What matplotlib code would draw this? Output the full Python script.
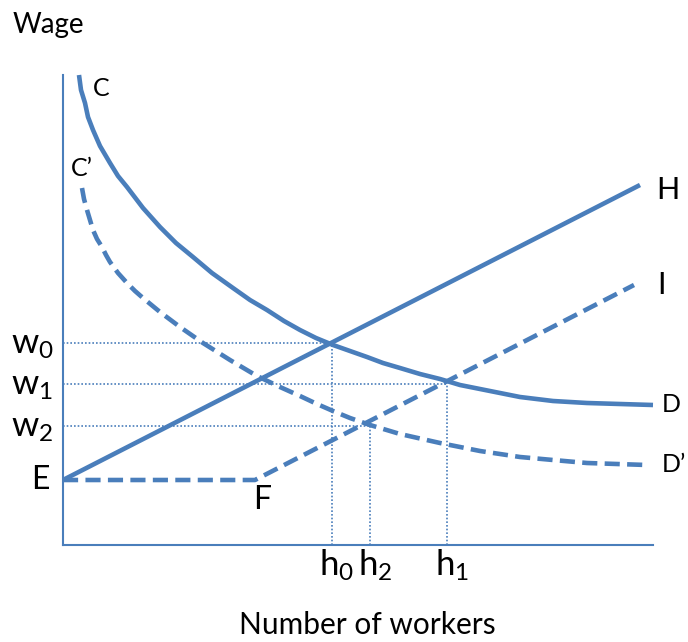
import numpy as np
import matplotlib.pyplot as plt

plt.rcParams['font.family'] = ['Lato', 'DejaVu Sans']
plt.rcParams['mathtext.fontset'] = 'custom'
plt.rcParams['mathtext.rm'] = 'Lato'

blue = '#4a7ebb'

# curve C (solid): workers, wage (arbitrary units)
c_x = [16, 18, 22, 25, 30, 37, 47, 55, 64, 80, 97, 113, 130, 149, 170, 187, 204, 221,
       237, 253, 270, 287, 304, 320, 337, 357, 377, 397, 417, 437, 457, 490, 524, 557, 590]
c_y = [470, 455, 442, 428, 415, 399, 382, 369, 358, 337, 318, 302, 288, 272, 257, 245, 235, 224,
       215, 207, 200, 194, 188, 182, 177, 171, 166, 160, 156, 152, 148, 144, 142, 141, 140]
# curve C' (dashed)
cp_x = [19, 21, 24, 27, 30, 34, 39, 43, 47, 55, 64, 72, 80, 97, 117, 140, 167, 194, 217,
        237, 254, 270, 287, 307, 337, 377, 417, 457, 490, 524, 584]
cp_y = [357, 346, 335, 325, 315, 306, 298, 290, 283, 272, 262, 254, 247, 233, 218, 202, 185, 169, 158,
        149, 141, 134, 127, 120, 111, 102, 94, 88, 85, 82, 80]

# lines H (solid) and E-F-I (dashed)
h_x = [0, 577]
h_y = [65, 360]
i_x = [0, 192, 571]
i_y = [65, 65, 260]

# equilibrium points
w_vals = [202, 161, 119]
w_labels = ['$\\mathregular{w_0}$', '$\\mathregular{w_1}$', '$\\mathregular{w_2}$']
h_vals = [269, 384, 307]
h_labels = ['$\\mathregular{h_0}$', '$\\mathregular{h_1}$', '$\\mathregular{h_2}$']

fig = plt.figure(figsize=(6.88, 6.42), dpi=100)
ax = fig.add_axes([63 / 688, 97 / 642, 590 / 688, 470 / 642])
ax.set_xlim(0, 590)
ax.set_ylim(0, 470)

for s in ['top', 'right']:
    ax.spines[s].set_visible(False)
for s in ['left', 'bottom']:
    ax.spines[s].set_color(blue)
    ax.spines[s].set_linewidth(1.5)
ax.set_xticks([])
ax.set_yticks([])

# dotted guide lines
for w, h in zip(w_vals, h_vals):
    ax.plot([0, h], [w, w], color=blue, lw=1.2, ls=(0, (1, 1.2)))
    ax.plot([h, h], [0, w], color=blue, lw=1.2, ls=(0, (1, 1.2)))

ax.plot(c_x, c_y, color=blue, lw=3.3, solid_capstyle='butt', solid_joinstyle='round', clip_on=False)
ax.plot(cp_x, cp_y, color=blue, lw=3.3, dashes=(3.3, 1.6), dash_joinstyle='round', clip_on=False)
ax.plot(h_x, h_y, color=blue, lw=3.3, solid_capstyle='butt')
ax.plot(i_x, i_y, color=blue, lw=3.3, dashes=(3.3, 1.6))

ax.text(30, 457, 'C', fontsize=18, ha='left', va='center')
ax.text(19, 377, 'C\u2019', fontsize=18, ha='center', va='center')
ax.text(605, 355, 'H', fontsize=22, ha='center', va='center')
ax.text(598, 260, 'I', fontsize=22, ha='center', va='center')
ax.text(608, 140, 'D', fontsize=18, ha='center', va='center')
ax.text(611, 80, 'D\u2019', fontsize=18, ha='center', va='center')
ax.text(-23, 65, 'E', fontsize=23, ha='center', va='center')
ax.text(199, 45, 'F', fontsize=23, ha='center', va='center')

for w, lab in zip(w_vals, w_labels):
    ax.text(-31, w - 2, lab, fontsize=25, ha='center', va='center')
for h, lab in zip(h_vals, h_labels):
    ax.text(h + 5, -3, lab, fontsize=25, ha='center', va='top')

fig.text(48 / 688, 1 - 25 / 642, 'Wage', fontsize=20, ha='center', va='center')
fig.text(367 / 688, 1 - 625 / 642, 'Number of workers', fontsize=21.5, ha='center', va='center')

fig.savefig('out.png', dpi=100)
